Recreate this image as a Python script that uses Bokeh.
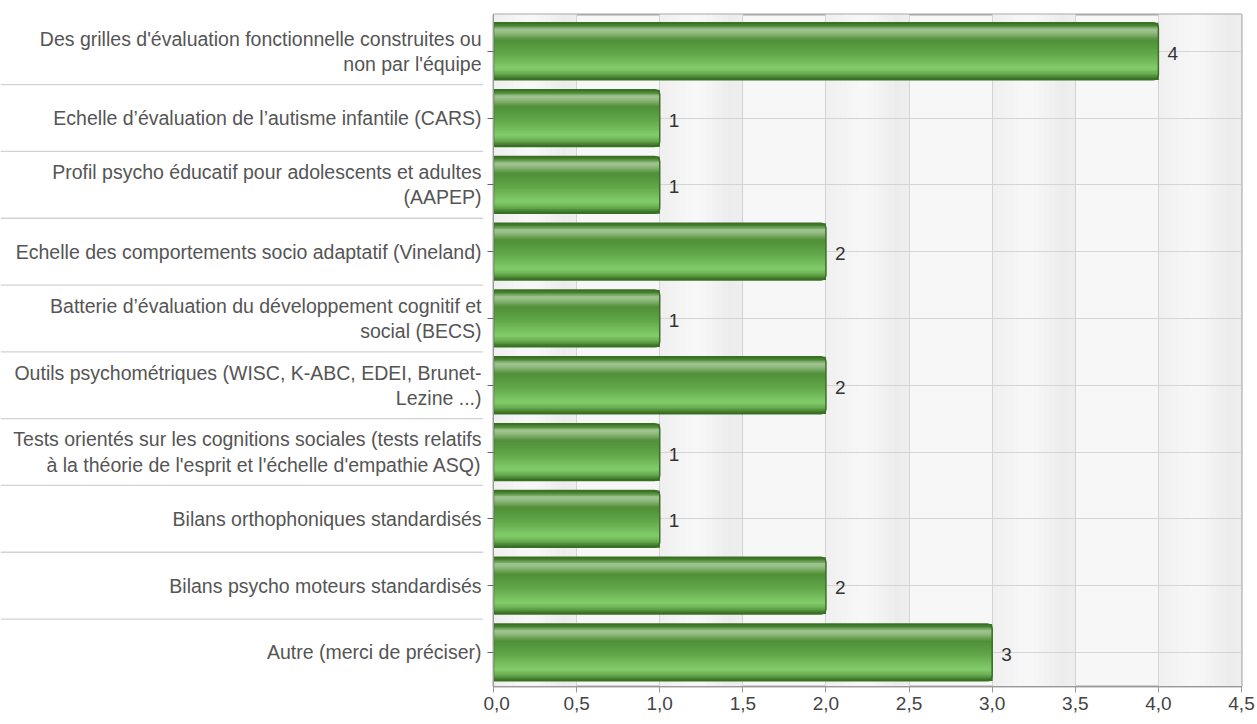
import numpy as np
from bokeh.plotting import figure
from bokeh.layouts import row
from bokeh.models import Range1d, FixedTicker
from bokeh.core.properties import value
from bokeh.embed import file_html
from bokeh.resources import INLINE

# Survey answers (top to bottom) and their counts
categories = [
    "Des grilles d'évaluation fonctionnelle construites ou\nnon par l'équipe",
    "Echelle d’évaluation de l’autisme infantile (CARS)",
    "Profil psycho éducatif pour adolescents et adultes\n(AAPEP)",
    "Echelle des comportements socio adaptatif (Vineland)",
    "Batterie d’évaluation du développement cognitif et\nsocial (BECS)",
    "Outils psychométriques (WISC, K-ABC, EDEI, Brunet-\nLezine ...)",
    "Tests orientés sur les cognitions sociales (tests relatifs\nà la théorie de l'esprit et l'échelle d'empathie ASQ)",
    "Bilans orthophoniques standardisés",
    "Bilans psycho moteurs standardisés",
    "Autre (merci de préciser)",
]
counts = [4, 1, 1, 2, 1, 2, 1, 1, 2, 3]

x_ticks = [0.0, 0.5, 1.0, 1.5, 2.0, 2.5, 3.0, 3.5, 4.0, 4.5]
x_tick_labels = ["0,0", "0,5", "1,0", "1,5", "2,0", "2,5", "3,0", "3,5", "4,0", "4,5"]

FONT = "Liberation Sans"
LABEL_W = 483

n = len(categories)
ypos = [n - 1 - i for i in range(n)]
y_range = Range1d(-0.51, n - 1 + 0.55)

# ---- left panel: category names and row separators ----
lab = figure(
    width=LABEL_W, height=724,
    x_range=Range1d(0, LABEL_W), y_range=y_range,
    output_backend="svg", toolbar_location=None,
    min_border_left=0, min_border_right=0,
    min_border_top=14, min_border_bottom=38,
)
lab.axis.visible = False
lab.grid.visible = False
lab.outline_line_color = None
lab.background_fill_color = "white"
lab.border_fill_color = "white"

sep_y = [i + 0.5 for i in range(n - 1)]
lab.segment(x0=[0] * len(sep_y), x1=[LABEL_W] * len(sep_y), y0=sep_y, y1=sep_y,
            line_color="#d2d2d2", line_width=1.3)
lab.text(x=[LABEL_W - 2] * n, y=ypos, text=categories,
         text_align="right", text_baseline="middle",
         text_font=value(FONT), text_font_size="19.5px",
         text_color="#555555", text_line_height=1.15)

# ---- main panel: bars ----
p = figure(
    width=1257 - LABEL_W, height=724,
    x_range=Range1d(0, 4.5), y_range=y_range,
    output_backend="svg", toolbar_location=None,
    min_border_left=10, min_border_right=16,
    min_border_top=14, min_border_bottom=38,
)
p.background_fill_color = "#f7f7f7"
p.border_fill_color = "white"
p.outline_line_color = "#a8a8a8"
p.outline_line_width = 2


def hex_to_rgb(h):
    h = h.lstrip("#")
    return np.array([int(h[i:i + 2], 16) for i in (0, 2, 4)], dtype=float)


def blend(stops, t):
    pos = [s[0] for s in stops]
    cols = [hex_to_rgb(s[1]) for s in stops]
    for k in range(len(pos) - 1):
        if pos[k] <= t <= pos[k + 1]:
            f = (t - pos[k]) / (pos[k + 1] - pos[k]) if pos[k + 1] > pos[k] else 0
            c = cols[k] * (1 - f) + cols[k + 1] * f
            return "#%02x%02x%02x" % tuple(int(round(v)) for v in c)
    c = cols[-1]
    return "#%02x%02x%02x" % tuple(int(v) for v in c)


# shaded columns behind every other grid interval
band_stops = [(0.0, "#efefef"), (0.45, "#f8f8f8"), (0.85, "#ececec"), (1.0, "#eeeeee")]
NB = 16
for k in x_ticks[::2]:
    l = [k + 0.5 * j / NB for j in range(NB)]
    r = [k + 0.5 * (j + 1) / NB + 0.002 for j in range(NB)]
    cols = [blend(band_stops, (j + 0.5) / NB) for j in range(NB)]
    p.quad(left=l, right=r, bottom=-5, top=20, fill_color=cols,
           line_color=None, level="image")

# glossy bars: each strip runs from its own top edge down to the bar's bottom,
# later strips painting over the lower part so no seams are left between them
bar_h = 0.85
bar_stops = [
    (0.00, "#356d1f"), (0.05, "#4a8833"), (0.12, "#a4c796"), (0.18, "#8fb97c"),
    (0.30, "#4f8f38"), (0.55, "#62a84a"), (0.80, "#83cd6b"), (0.90, "#67aa50"),
    (1.00, "#2f661b"),
]
S = 40
for j in range(S):
    t_top = j / S
    seg_h = bar_h * (1 - t_top)
    yc = [y - bar_h / 2 + seg_h / 2 for y in ypos]
    p.hbar(y=yc, left=0, right=counts, height=seg_h,
           fill_color=blend(bar_stops, (j + 0.5) / S), line_color=None)

p.hbar(y=ypos, left=0, right=counts, height=bar_h, fill_alpha=0,
       line_color="#3b7024", line_width=1.5, border_radius=(0, 5, 5, 0))

# value labels to the right of each bar
p.text(x=counts, y=ypos, text=[str(c) for c in counts],
       x_offset=9, y_offset=2, text_baseline="middle", text_align="left",
       text_font=value(FONT), text_font_size="19px", text_color="#333333")

# x axis
p.xaxis.ticker = FixedTicker(ticks=x_ticks, minor_ticks=[])
p.xaxis.major_label_overrides = dict(zip(x_ticks, x_tick_labels))
p.xaxis.major_label_text_font = FONT
p.xaxis.major_label_text_font_size = "19px"
p.xaxis.major_label_text_color = "#444444"
p.xaxis.axis_line_color = "#9a9a9a"
p.xaxis.major_tick_line_color = "#9a9a9a"
p.xaxis.major_tick_out = 6
p.xaxis.major_tick_in = 0
p.xaxis.major_label_standoff = 4

# y axis: only the line and the short ticks, names are in the left panel
p.yaxis.ticker = FixedTicker(ticks=ypos, minor_ticks=[])
p.yaxis.major_label_overrides = {y: "" for y in ypos}
p.yaxis.axis_line_color = "#9a9a9a"
p.yaxis.major_tick_line_color = "#666666"
p.yaxis.major_tick_out = 6
p.yaxis.major_tick_in = 0
p.yaxis.major_label_standoff = 0

p.xgrid.grid_line_color = "#d4d4d4"
p.ygrid.grid_line_color = "#d4d4d4"

layout = row(lab, p, spacing=0)
open("out.html", "w").write(file_html(layout, INLINE))
